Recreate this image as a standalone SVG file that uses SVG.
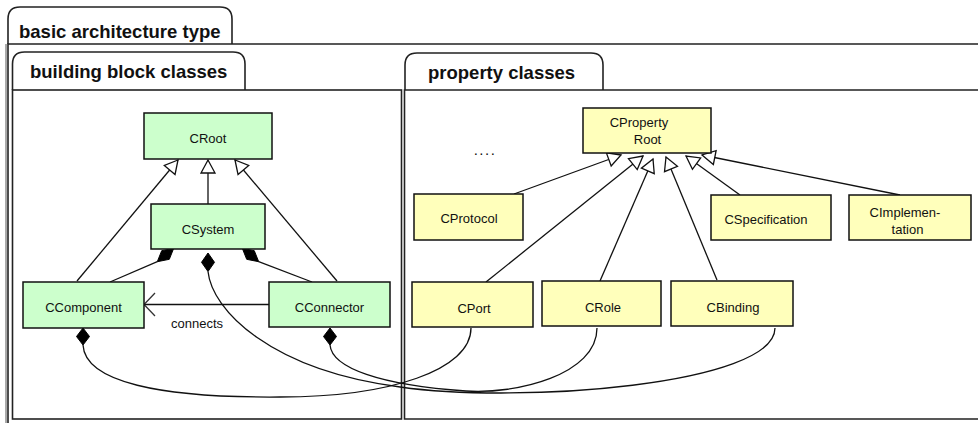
<svg xmlns="http://www.w3.org/2000/svg" width="978" height="423" viewBox="0 0 978 423">
  <style>
    .frame{fill:none;stroke:#222;stroke-width:1.6}
    .tab{fill:#fff;stroke:#222;stroke-width:1.6}
    .title{font-family:"Liberation Sans",Arial,sans-serif;font-weight:bold;font-size:18.5px;fill:#111}
    .lbl{font-family:"Liberation Sans",Arial,sans-serif;font-size:13px;fill:#111;text-anchor:middle}
    .bb rect{fill:#ccffcc;stroke:#111;stroke-width:1.5}
    .pc rect{fill:#ffffbb;stroke:#111;stroke-width:1.5}
    .edge{fill:none;stroke:#111;stroke-width:1.3}
    .gen{marker-end:url(#gen)}
    .dia{fill:#000;stroke:#000;stroke-width:1;stroke-linejoin:round}
  </style>
  <defs>
    <marker id="gen" viewBox="-15 -9 17 18" refX="0" refY="0" markerWidth="17" markerHeight="18" markerUnits="userSpaceOnUse" orient="auto">
      <path d="M0,0 L-13,-7 L-13,7 Z" fill="#fff" stroke="#111" stroke-width="1.3"/>
    </marker>
    <marker id="open" viewBox="-13 -13 15 26" refX="0" refY="0" markerWidth="15" markerHeight="26" markerUnits="userSpaceOnUse" orient="auto">
      <path d="M-11,-11.5 L0,0 L-11,11.5" fill="none" stroke="#333" stroke-width="1.3"/>
    </marker>
  </defs>
  <rect width="978" height="423" fill="#fff"/>

  <!-- package frames -->
  <g id="pkg-basic">
    <path class="tab" d="M8 44 V19 Q8 7 20 7 H220 Q232 7 232 19 V44"/>
    <path class="frame" d="M8 423 V44 H978"/>
    <line x1="6" y1="44" x2="6" y2="423" stroke="#555" stroke-width="1"/>
    <text class="title" x="19" y="37.5">basic architecture type</text>
  </g>
  <g id="pkg-building">
    <path class="tab" d="M12.5 90 V64 Q12.5 52 24.5 52 H233 Q245 52 245 64 V90"/>
    <rect class="frame" x="12.5" y="90" width="389" height="329"/>
    <text class="title" x="30" y="78">building block classes</text>
  </g>
  <g id="pkg-property">
    <path class="tab" d="M405 90 V65 Q405 53 417 53 H591 Q603 53 603 65 V90"/>
    <path class="frame" d="M978 90 H404.5 V419 H978"/>
    <text class="title" x="428" y="79">property classes</text>
  </g>

  <!-- connectors -->
  <g id="connectors">
    <!-- generalizations -->
    <path class="edge gen" d="M77 281 L178 160"/>
    <path class="edge gen" d="M208 204 L208 160"/>
    <path class="edge gen" d="M337 281 L235 160"/>
    <path class="edge gen" d="M514 194 L621 155"/>
    <path class="edge gen" d="M486 282 L643 156"/>
    <path class="edge gen" d="M600 281 L653 159"/>
    <path class="edge gen" d="M717 280 L666 157"/>
    <path class="edge gen" d="M740 195 L686 156"/>
    <path class="edge gen" d="M900 195 L702 155"/>

    <!-- compositions inside CSystem -->
    <path class="edge" d="M110 282 L157.3 261.7"/>
    <polygon class="dia" points="157.3,261.7 169.3,259.3 173.7,248.3 161.7,250.7"/>
    <path class="edge" d="M312 282 L258.7 261.7"/>
    <polygon class="dia" points="258.7,261.7 246.7,259.3 242.3,248.3 254.3,250.7"/>

    <!-- connects association -->
    <path class="edge" d="M269 304.5 L144 304.5" stroke="#333" marker-end="url(#open)"/>
    <text class="lbl" x="197" y="328">connects</text>

    <!-- property compositions -->
    <polygon class="dia" points="83,328 89.5,336.5 83,345 76.5,336.5"/>
    <path class="edge" d="M83 345 C85 382 160 398 280 397 C390 397 471 370 471 328"/>
    <polygon class="dia" points="330,328 336.5,336.5 330,345 323.5,336.5"/>
    <path class="edge" d="M330 345 C332 368 380 385 466 391 C516 394.5 597 375 597 328"/>
    <polygon class="dia" points="208,253 214.5,262.3 208,271.5 201.5,262.3"/>
    <path class="edge" d="M208 271.5 C212 310 270 370 400 387 C520 404 775 385 775 328"/>
  </g>

  <!-- building block classes -->
  <g id="CRoot" class="bb">
    <rect x="144" y="113" width="128" height="46"/>
    <text class="lbl" x="208" y="143">CRoot</text>
  </g>
  <g id="CSystem" class="bb">
    <rect x="151" y="204" width="114" height="45"/>
    <text class="lbl" x="208" y="234">CSystem</text>
  </g>
  <g id="CComponent" class="bb">
    <rect x="23" y="282" width="121" height="46"/>
    <text class="lbl" x="83.5" y="312">CComponent</text>
  </g>
  <g id="CConnector" class="bb">
    <rect x="269" y="282" width="121" height="45"/>
    <text class="lbl" x="329.5" y="312">CConnector</text>
  </g>

  <!-- property classes -->
  <g id="ellipsis">
    <text class="lbl" x="485" y="155" style="font-size:15px;letter-spacing:1.5px">....</text>
  </g>
  <g id="CPropertyRoot" class="pc">
    <rect x="583" y="108" width="128" height="45"/>
    <text class="lbl" x="639" y="127">CProperty</text>
    <text class="lbl" x="647.5" y="144">Root</text>
  </g>
  <g id="CProtocol" class="pc">
    <rect x="414" y="194" width="109" height="46"/>
    <text class="lbl" x="469" y="223">CProtocol</text>
  </g>
  <g id="CSpecification" class="pc">
    <rect x="711" y="195" width="120" height="45"/>
    <text class="lbl" x="766" y="224">CSpecification</text>
  </g>
  <g id="CImplementation" class="pc">
    <rect x="849" y="195" width="122" height="45"/>
    <text class="lbl" x="905" y="217">CImplemen-</text>
    <text class="lbl" x="907.5" y="234">tation</text>
  </g>
  <g id="CPort" class="pc">
    <rect x="412" y="282" width="121" height="45"/>
    <text class="lbl" x="474" y="313">CPort</text>
  </g>
  <g id="CRole" class="pc">
    <rect x="542" y="281" width="119" height="45"/>
    <text class="lbl" x="603" y="312">CRole</text>
  </g>
  <g id="CBinding" class="pc">
    <rect x="671" y="281" width="122" height="45"/>
    <text class="lbl" x="733" y="312">CBinding</text>
  </g>
</svg>
